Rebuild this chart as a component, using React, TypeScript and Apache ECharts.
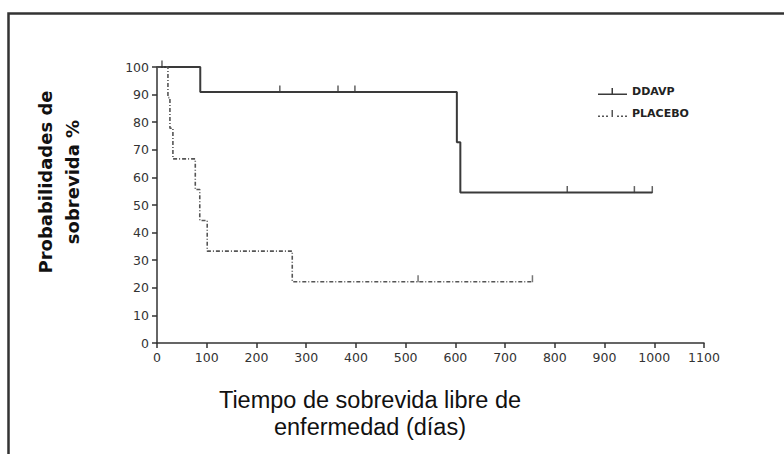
import React, { useEffect, useRef } from "react";
import * as echarts from "echarts";

// Kaplan–Meier step data
const seriesNames = ["DDAVP", "PLACEBO"];
const ddavpTimes = [0, 87, 603, 610, 996];
const ddavpSurv = [100, 90.9, 72.7, 54.5, 54.5];
const ddavpCensorTimes = [10, 247, 364, 398, 825, 960, 996];
const ddavpCensorSurv = [100, 90.9, 90.9, 90.9, 54.5, 54.5, 54.5];
const placeboTimes = [0, 22, 26, 32, 77, 86, 101, 272, 755];
const placeboSurv = [100, 88.9, 77.8, 66.7, 55.6, 44.4, 33.3, 22.2, 22.2];
const placeboCensorTimes = [525, 755];
const placeboCensorSurv = [22.2, 22.2];

const xTitle = "Tiempo de sobrevida libre de\nenfermedad (días)";
const yTitle = "Probabilidades de\nsobrevida %";

const zip = (a: number[], b: number[]) => a.map((v, i) => [v, b[i]]);

// legend icons: solid line with a censor tick; dotted line with a censor tick
const ddavpIcon =
  "path://M0,5.5 L29,5.5 L29,7 L0,7 Z M13.5,0 L15,0 L15,7 L13.5,7 Z";
const placeboIcon =
  "path://M0,5.5 L2,5.5 L2,7 L0,7 Z M4,5.5 L6,5.5 L6,7 L4,7 Z M8,5.5 L10,5.5 L10,7 L8,7 Z M13.5,0 L15,0 L15,7 L13.5,7 Z M19,5.5 L21,5.5 L21,7 L19,7 Z M23,5.5 L25,5.5 L25,7 L23,7 Z M27,5.5 L29,5.5 L29,7 L27,7 Z";

export default function App() {
  const ref = useRef<HTMLDivElement>(null);
  useEffect(() => {
    if (!ref.current) return;
    const chart = echarts.init(ref.current, null, { renderer: "svg" });
    const tickFont = { fontFamily: "DejaVu Sans", fontSize: 12.5, color: "#333" };
    const ddColor = "#3a3a3a";
    const plColor = "#555555";
    chart.setOption({
      animation: false,
      backgroundColor: "#ffffff",
      grid: { left: 157, right: 80, top: 67, bottom: 111, containLabel: false },
      xAxis: {
        type: "value",
        min: 0,
        max: 1100,
        interval: 100,
        axisLine: { show: true, onZero: false, lineStyle: { color: "#333", width: 1.5 } },
        axisTick: { show: true, inside: false, length: 5, lineStyle: { color: "#333", width: 1.5 } },
        axisLabel: { ...tickFont, margin: 8, formatter: (v: number) => String(v) },
        splitLine: { show: false },
      },
      yAxis: {
        type: "value",
        min: 0,
        max: 100,
        interval: 10,
        axisLine: { show: true, onZero: false, lineStyle: { color: "#333", width: 1.5 } },
        axisTick: { show: true, inside: false, length: 5, lineStyle: { color: "#333", width: 1.5 } },
        axisLabel: { ...tickFont, margin: 8, formatter: (v: number) => String(v) },
        splitLine: { show: false },
      },
      legend: {
        orient: "vertical",
        left: 593,
        top: 81,
        itemWidth: 29,
        itemHeight: 7,
        itemGap: 11,
        data: [
          { name: seriesNames[0], icon: ddavpIcon, itemStyle: { color: ddColor } },
          { name: seriesNames[1], icon: placeboIcon, itemStyle: { color: plColor } },
        ],
        textStyle: { fontFamily: "DejaVu Sans", fontWeight: "bold", fontSize: 11, color: "#222" },
      },
      series: [
        {
          name: seriesNames[0],
          type: "line",
          step: "end",
          data: zip(ddavpTimes, ddavpSurv),
          showSymbol: false,
          symbol: "none",
          lineStyle: { color: ddColor, width: 2 },
          itemStyle: { color: ddColor },
        },
        {
          name: seriesNames[1],
          type: "line",
          step: "end",
          data: zip(placeboTimes, placeboSurv),
          showSymbol: false,
          symbol: "none",
          lineStyle: { color: plColor, width: 1.6, type: [4, 2, 1, 2] },
          itemStyle: { color: plColor },
        },
        {
          name: "DDAVP censored",
          type: "scatter",
          data: zip(ddavpCensorTimes, ddavpCensorSurv),
          symbol: "rect",
          symbolSize: [1.5, 7],
          symbolOffset: [0, -3],
          itemStyle: { color: ddColor },
        },
        {
          name: "PLACEBO censored",
          type: "scatter",
          data: zip(placeboCensorTimes, placeboCensorSurv),
          symbol: "rect",
          symbolSize: [1.5, 7],
          symbolOffset: [0, -3],
          itemStyle: { color: plColor },
        },
      ],
      graphic: [
        {
          type: "polyline",
          shape: { points: [[8.5, 454], [8.5, 13.5], [784, 13.5]] },
          style: { stroke: "#333", lineWidth: 2.5, fill: "none" },
          silent: true,
        },
        {
          type: "text",
          x: 59,
          y: 182,
          rotation: Math.PI / 2,
          style: {
            text: yTitle,
            align: "center",
            verticalAlign: "middle",
            fontFamily: "DejaVu Sans",
            fontWeight: "bold",
            fontSize: 18,
            lineHeight: 27,
            fill: "#111",
          },
        },
        {
          type: "text",
          x: 370,
          y: 413,
          style: {
            text: xTitle,
            align: "center",
            verticalAlign: "middle",
            fontFamily: "Liberation Sans",
            fontSize: 23.5,
            lineHeight: 27,
            fill: "#111",
          },
        },
      ],
    });
    return () => chart.dispose();
  }, []);
  return (
    <div
      ref={ref}
      style={{ position: "absolute", left: 0, top: 0, width: 784, height: 454, background: "#fff" }}
    />
  );
}
